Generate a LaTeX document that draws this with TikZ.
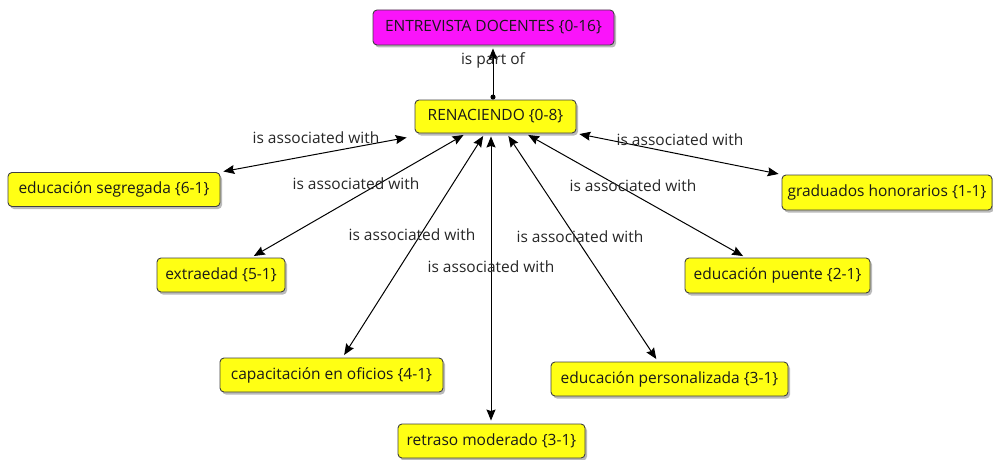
\documentclass[tikz,border=0pt]{standalone}
\usepackage{fontspec}
\setmainfont{Open Sans}
\usetikzlibrary{shadows,arrows.meta}
\definecolor{cmag}{RGB}{250,20,250}
\definecolor{cyel}{RGB}{255,255,20}
\begin{document}
\begin{tikzpicture}[x=1pt,y=-1pt,
  concept/.style={draw=black!75, line width=0.9pt, rounded corners=4pt, fill=cyel, minimum height=34pt, inner sep=0pt,
    font=\fontsize{15.5}{17}\selectfont, text=black!90, drop shadow={shadow xshift=2pt, shadow yshift=-2.5pt, fill=black!45, opacity=0.6}},
  lbl/.style={font=\fontsize{15.5}{17}\selectfont, text=black!85, inner sep=0pt},
  assoc/.style={{Stealth[length=11pt,width=9pt,inset=1.5pt]}-{Stealth[length=11pt,width=9pt,inset=1.5pt]}, line width=1pt, shorten <=3pt, shorten >=3pt},
  partof/.style={{Circle[length=5pt]}-{Stealth[length=11pt,width=9pt,inset=1.5pt]}, line width=1pt, shorten >=3pt}
]
\useasboundingbox (0,0) rectangle (993,460);
\node[concept, fill=cmag, minimum width=241pt, minimum height=35pt] (ent) at (493.5,27.5) {ENTREVISTA DOCENTES \{0-16\}};
\node[concept, minimum width=161pt, minimum height=33pt] (ren) at (495.5,116.5) {RENACIENDO \{0-8\}};
\node[concept, minimum width=212pt] (seg) at (114,189.5) {educación segregada \{6-1\}};
\node[concept, minimum width=128pt] (ext) at (221,275) {extraedad \{5-1\}};
\node[concept, minimum width=223pt] (cap) at (331.5,375) {capacitación en oficios \{4-1\}};
\node[concept, minimum width=187pt] (ret) at (491.5,441) {retraso moderado \{3-1\}};
\node[concept, minimum width=237pt] (per) at (669.5,379) {educación personalizada \{3-1\}};
\node[concept, minimum width=185pt, minimum height=35pt] (pue) at (777.5,275.5) {educación puente \{2-1\}};
\node[concept, minimum width=210pt, minimum height=35pt] (gra) at (887,192.5) {graduados honorarios \{1-1\}};

\draw[partof] (ren.north -| 493,0) -- (ent.south -| 493,0);
\draw[assoc] (ren.west |- 0,137) ++(-5,0) coordinate (a1) -- (seg.north east) ;
\draw[assoc] (ren) -- (ext);
\draw[assoc] (ren) -- (cap);
\draw[assoc] (ren.south -| 491,0) -- (ret.north -| 491,0);
\draw[assoc] (ren) -- (per);
\draw[assoc] (ren) -- (pue);
\draw[assoc] (ren.south east) -- (gra.north west);

\node[lbl] (l0) at (493,60) {is part of};
\node[lbl] (l1) at (316,138) {is associated with};
\node[lbl] (l2) at (680,140) {is associated with};
\node[lbl] (l3) at (356,184) {is associated with};
\node[lbl] (l4) at (633,186) {is associated with};
\node[lbl] (l5) at (412,235) {is associated with};
\node[lbl] (l6) at (580,237) {is associated with};
\node[lbl] (l7) at (491,267) {is associated with};
\end{tikzpicture}
\end{document}
